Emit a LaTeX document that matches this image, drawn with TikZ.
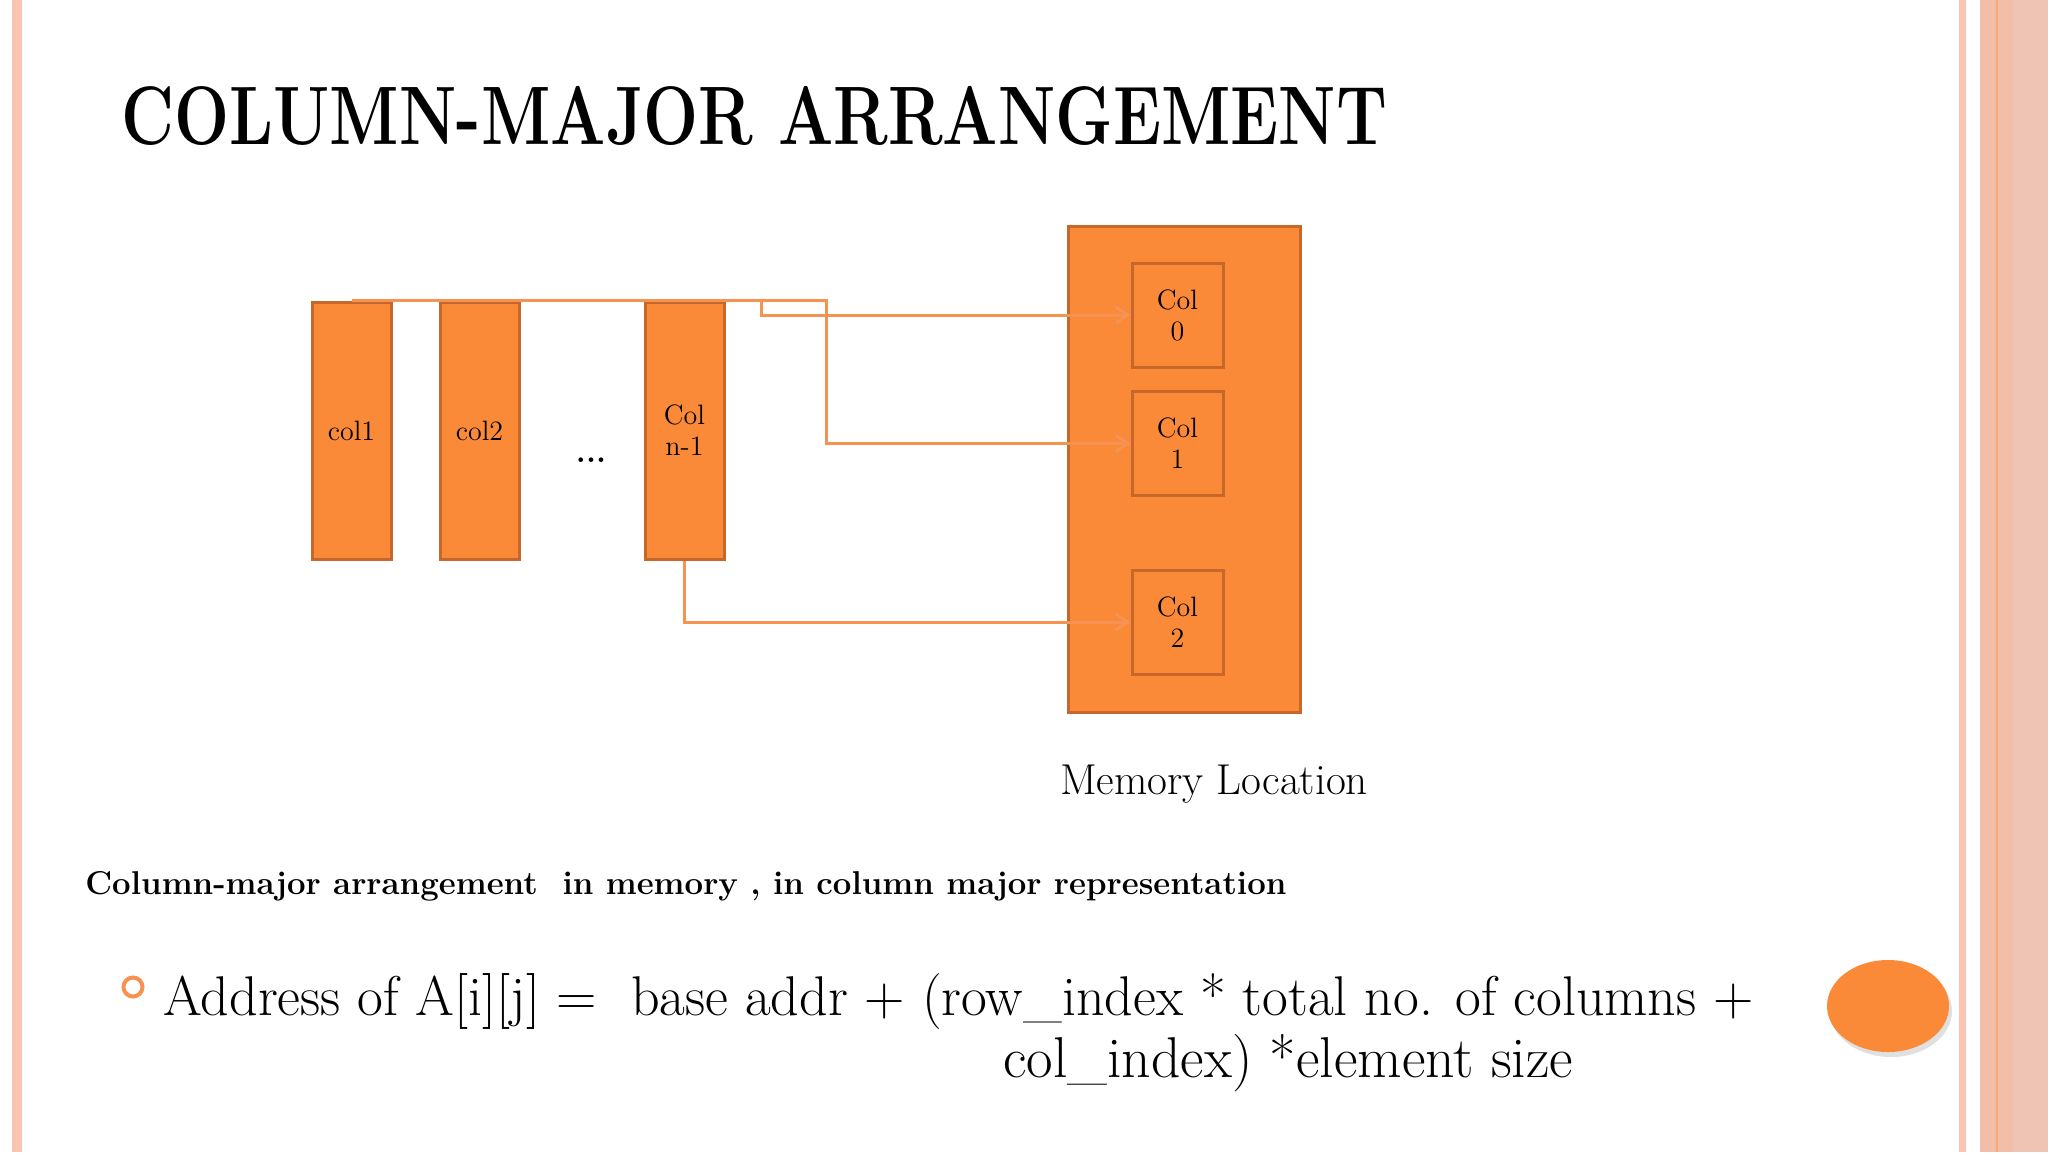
\documentclass[tikz,border=0pt]{standalone}
\usepackage{tikz}
\usetikzlibrary{arrows.meta, positioning}
\definecolor{boxorange}{RGB}{250,137,56}
\definecolor{boxedge}{RGB}{199,104,42}
\definecolor{linkorange}{RGB}{246,146,82}
\definecolor{edgepink}{RGB}{250,195,178}
\definecolor{bandpink}{RGB}{242,190,170}
\definecolor{bandpinklight}{RGB}{240,196,180}

\tikzset{
  colbar/.style={fill=boxorange, draw=boxedge, line width=1.5pt, inner sep=0pt,
                 minimum width=39.5pt, minimum height=128.5pt, align=center,
                 font=\fontsize{14}{15.5}\selectfont},
  cellbox/.style={colbar, minimum width=45.5pt, minimum height=52pt},
  link/.style={draw=linkorange, line width=1.5pt},
  linkarrow/.style={link, -{Straight Barb[length=6pt, width=8pt, line width=1.5pt]}},
}

\begin{document}
\begin{tikzpicture}[x=0.5pt, y=-0.5pt]
    % slide frame
    \fill[white] (0,0) rectangle (2048,1152);
    \useasboundingbox (0,0) rectangle (2048,1152);
    \fill[edgepink] (12,0) rectangle (22,1152);
    \fill[edgepink] (1959,0) rectangle (1966,1152);
    \fill[bandpink] (1980,0) rectangle (2048,1152);
    \fill[bandpinklight] (2013,0) rectangle (2048,1152);
    \draw[linkorange!80, line width=0.6pt] (1997,0) -- (1997,1152);

    % title
    \node[anchor=base west, inner sep=0pt] (title) at (121,144)
        {\scalebox{0.785}[1]{\fontsize{41.5}{44}\selectfont\bfseries COLUMN-MAJOR ARRANGEMENT}};

    % columns of the array
    \node[colbar] (col1) at (351.5,430.5) {col1};
    \node[colbar] (col2) at (479.5,430.5) {col2};
    \node[inner sep=0pt, font=\fontsize{16}{18}\selectfont\bfseries] (dots) at (591,460) {...};
    \node[colbar] (coln) at (684.5,430.5) {Col\\n-1};

    % memory block
    \node[fill=boxorange, draw=boxedge, line width=1.5pt, minimum width=116pt,
          minimum height=243pt] (mem) at (1184,469) {};
    \node[cellbox] (cell0) at (1177.5,315) {Col\\0};
    \node[cellbox] (cell1) at (1177.5,443.5) {Col\\1};
    \node[cellbox] (cell2) at (1177.5,622) {Col\\2};
    \node[font=\fontsize{21.6}{24}\selectfont] (memlabel) at (1214,784) {Memory Location};

    % links
    \coordinate (bus0) at (761,300);
    \coordinate (bus1) at (826,300);
    \draw[linkarrow] (col1.north |- bus0) -- (bus0) |- (cell0.west);
    \draw[linkarrow] (col2.north |- bus1) -- (bus1) |- (cell1.west);
    \draw[linkarrow] (coln.south) |- (cell2.west);

    % caption
    \node[anchor=base west, inner sep=0pt] (caption) at (85,894)
        {\fontsize{16.5}{20}\selectfont\bfseries Column-major arrangement \ in memory , in column major representation};

    % formula
    \draw[linkorange, line width=2pt] (133,987) circle [radius=9.5];
    \node[anchor=base west, inner sep=0pt, font=\fontsize{28}{31}\selectfont] (addr1) at (163,1015)
        {Address of A[i][j] = \ base addr + (row\_index * total no. of columns +};
    \node[anchor=base west, inner sep=0pt, font=\fontsize{28.8}{31}\selectfont] (addr2) at (1003,1077)
        {col\_index) *element size};

    % corner button
    \fill[black!12] (1891,1011) ellipse [x radius=61, y radius=46];
    \fill[boxorange] (1888,1006) ellipse [x radius=61, y radius=46];
\end{tikzpicture}
\end{document}
